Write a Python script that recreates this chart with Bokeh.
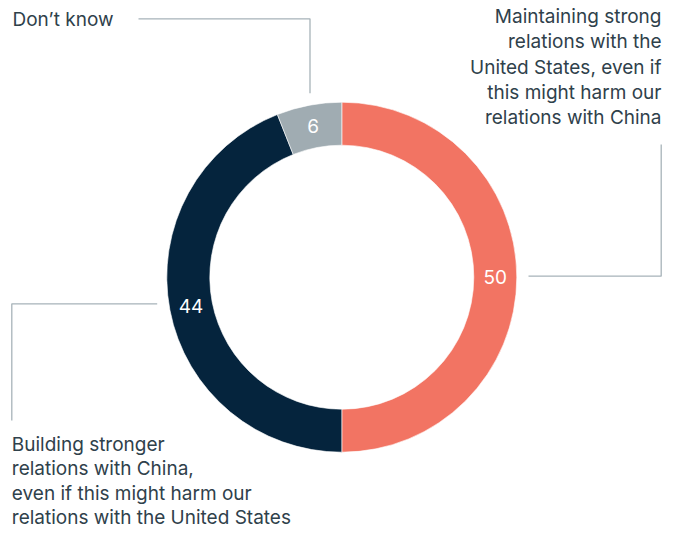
from bokeh.plotting import figure
from bokeh.models import Range1d, ColumnDataSource
from bokeh.core.properties import value
from bokeh.embed import file_html
from bokeh.resources import INLINE
import math

# ---- data ----
categories = ["Maintaining strong relations with the United States, even if this might harm our relations with China",
              "Building stronger relations with China, even if this might harm our relations with the United States",
              "Don't know"]
values = [50, 44, 6]
colors = ["#F27463", "#05243D", "#A0ACB2"]
value_labels = ["50", "44", "6"]

label_us = "Maintaining strong\nrelations with the\nUnited States, even if\nthis might harm our\nrelations with China"
label_cn = "Building stronger\nrelations with China,\neven if this might harm our\nrelations with the United States"
label_dk = "Don\u2019t know"

W, H = 663, 532
FONT = "Inter"
FS = "19px"
TEXT_COLOR = "#2F414B"
LINE_COLOR = "#A7B3B9"

p = figure(width=W, height=H, output_backend="svg", toolbar_location=None,
           x_range=Range1d(0, W), y_range=Range1d(0, H), min_border=0)
p.axis.visible = False
p.grid.visible = False
p.outline_line_color = None
p.background_fill_color = "white"
p.border_fill_color = "white"

def Y(ys):
    return H - ys

cx, cy = 341.3, Y(276.7)
r_in, r_out = 132, 175

total = sum(values)
starts, ends, mids = [], [], []
cum = 0
for v in values:
    a0 = math.pi / 2 - 2 * math.pi * cum / total
    cum += v
    a1 = math.pi / 2 - 2 * math.pi * cum / total
    starts.append(a0)
    ends.append(a1)
    mids.append((a0 + a1) / 2)

src = ColumnDataSource(dict(start=starts, end=ends, color=colors, cat=categories, val=values))
p.annular_wedge(x=cx, y=cy, inner_radius=r_in, outer_radius=r_out,
                start_angle="start", end_angle="end", direction="clock",
                fill_color="color", line_color="white", line_width=0.6, source=src)

r_mid = (r_in + r_out) / 2
lsrc = ColumnDataSource(dict(x=[cx + r_mid * math.cos(m) for m in mids],
                             y=[cy + r_mid * math.sin(m) for m in mids],
                             t=value_labels))
p.text(x="x", y="y", text="t", source=lsrc, text_color="white",
       text_font=value(FONT), text_font_size=FS,
       text_align="center", text_baseline="middle")

# leader lines (page layout)
p.line([138, 309.5, 309.5], [Y(18.3), Y(18.3), Y(92.7)], line_color=LINE_COLOR, line_width=1.3)
p.line([660.7, 660.7, 528], [Y(144), Y(275.7), Y(275.7)], line_color=LINE_COLOR, line_width=1.3)
p.line([156.7, 11.3, 11.3], [Y(303.3), Y(303.3), Y(420)], line_color=LINE_COLOR, line_width=1.3)

# category labels
p.text(x=[12], y=[Y(18.5)], text=[label_dk], text_color=TEXT_COLOR, text_font=value(FONT),
       text_font_size=FS, text_align="left", text_baseline="middle")
p.text(x=[661], y=[Y(4.7)], text=[label_us], text_color=TEXT_COLOR, text_font=value(FONT),
       text_font_size=FS, text_align="right", text_baseline="top", text_line_height=1.1)
p.text(x=[11.3], y=[Y(432)], text=[label_cn], text_color=TEXT_COLOR, text_font=value(FONT),
       text_font_size=FS, text_align="left", text_baseline="top", text_line_height=1.07)

open("out.html", "w").write(file_html(p, INLINE))
